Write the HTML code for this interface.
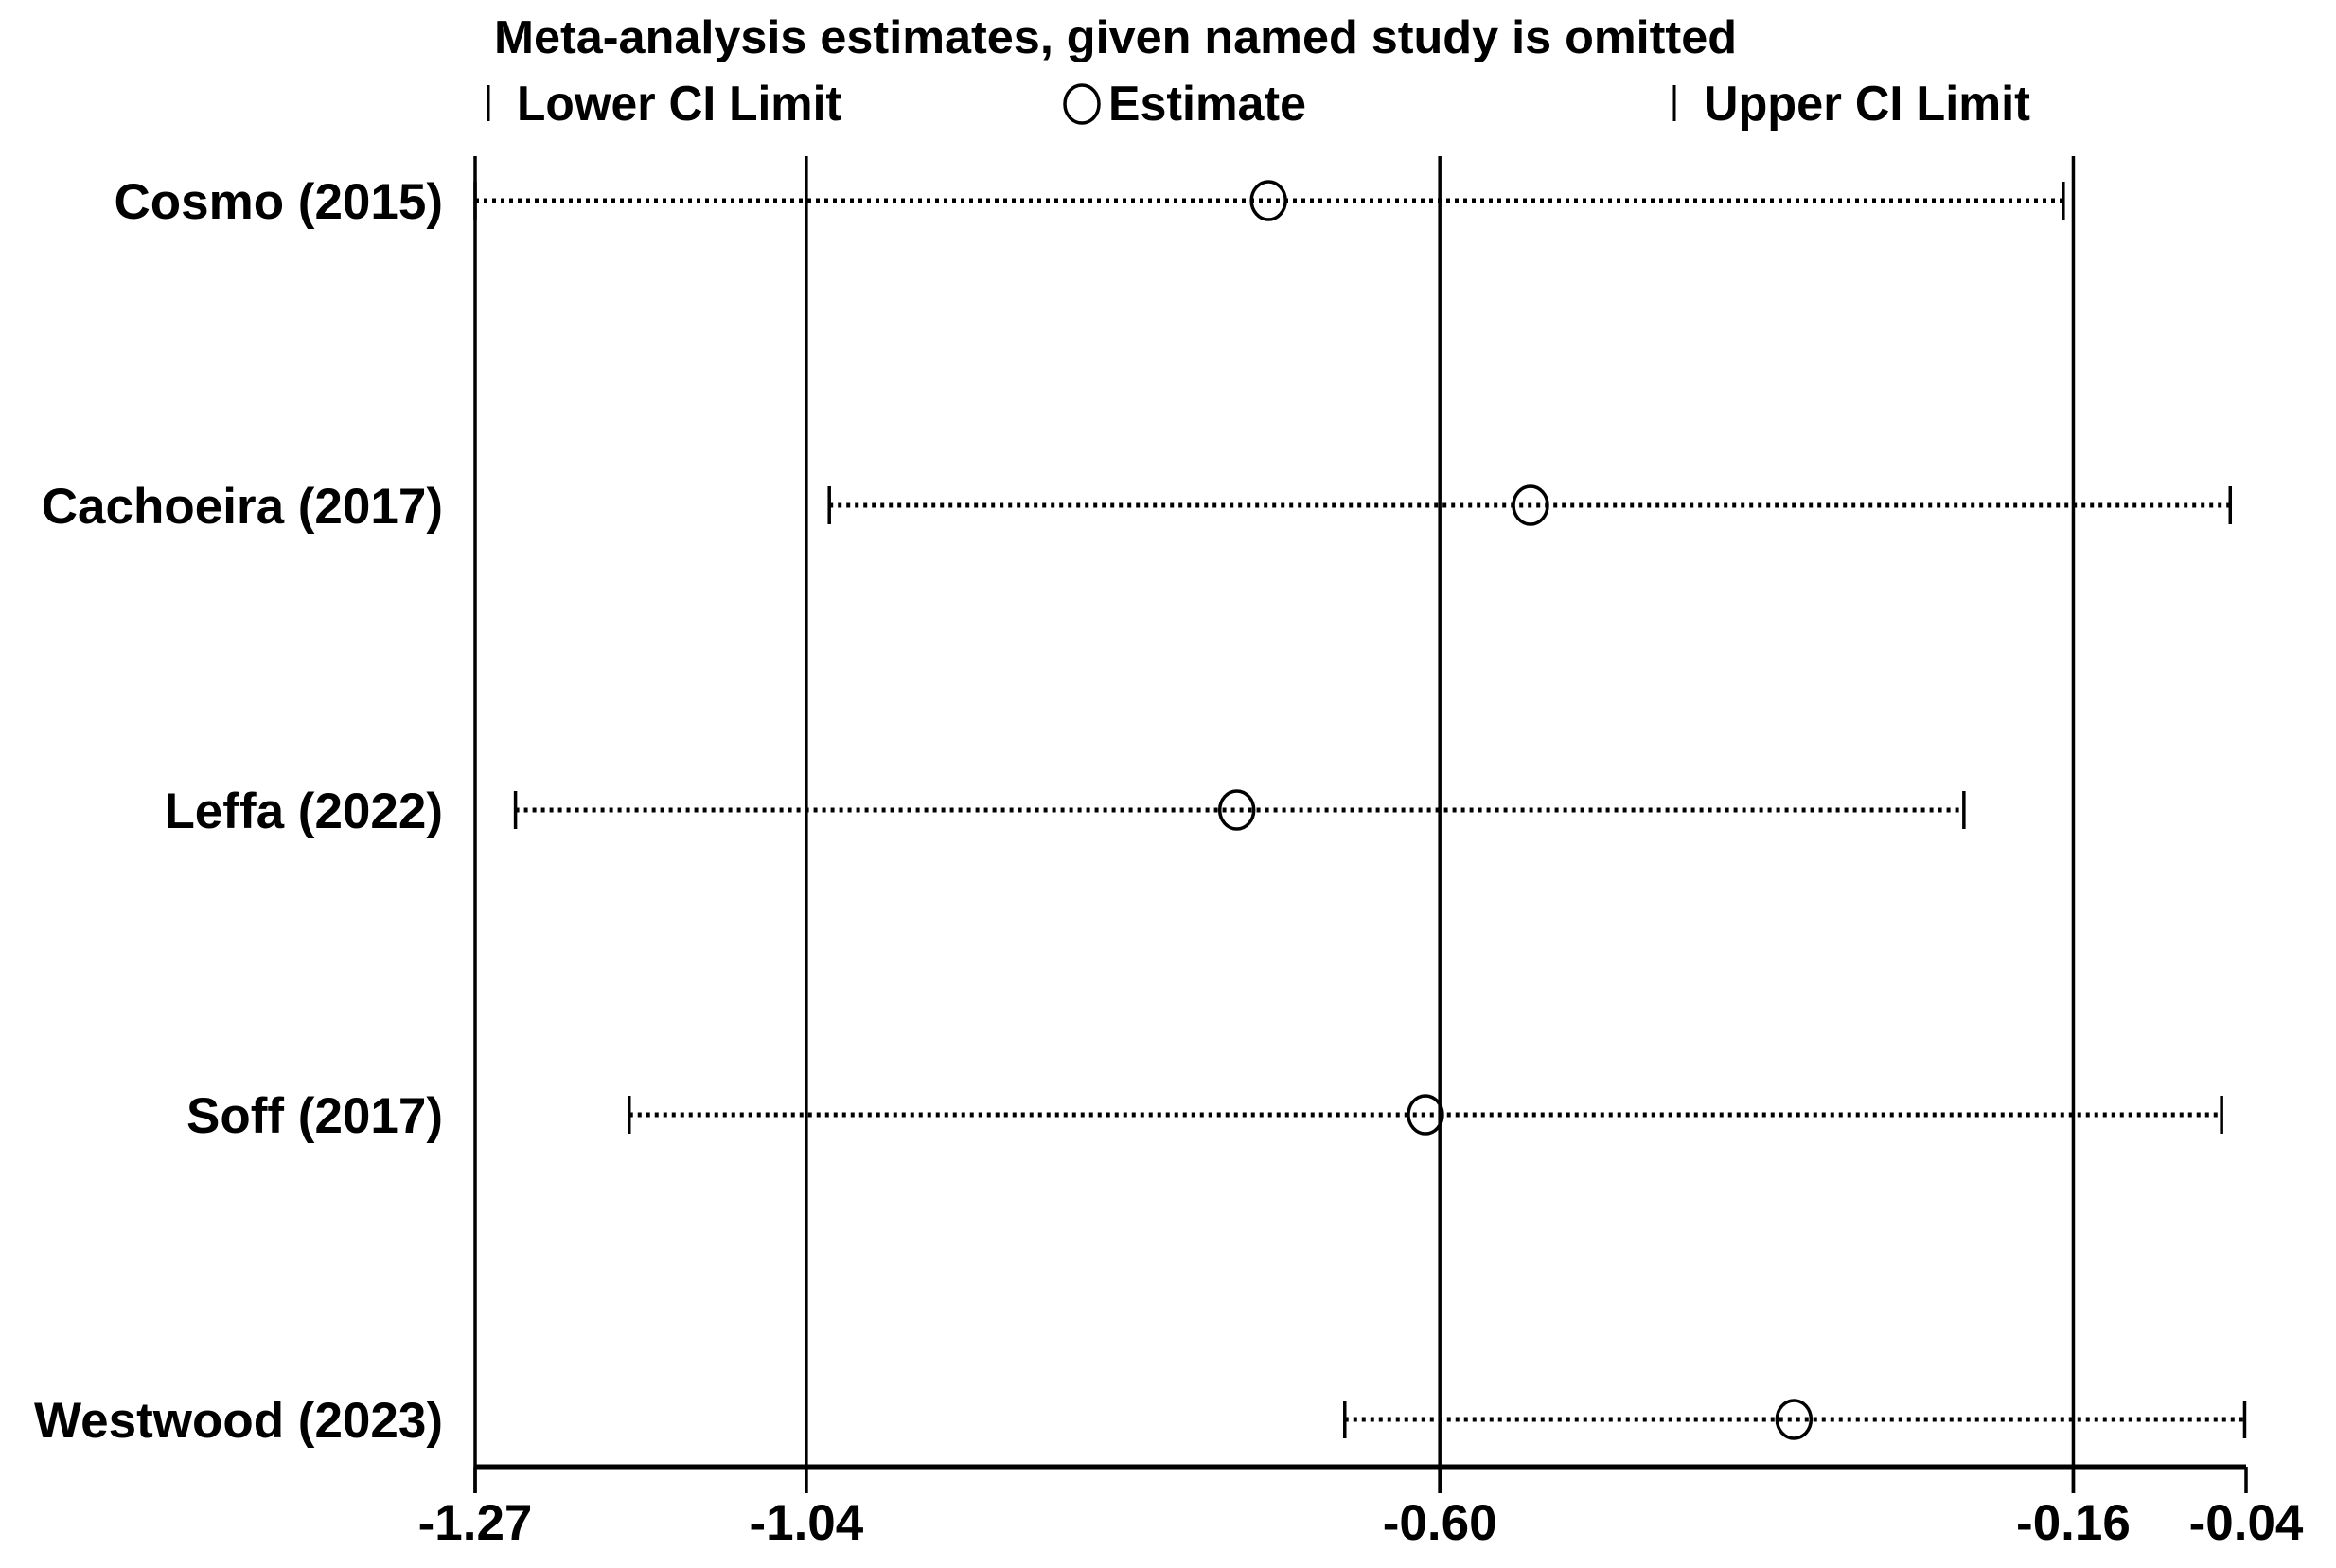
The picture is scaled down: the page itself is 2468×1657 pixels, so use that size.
<!DOCTYPE html>
<html><head><meta charset="utf-8"><style>
html,body{margin:0;padding:0;background:#fff;}
svg{display:block;font-family:"Liberation Sans",Arial,sans-serif;}
</style></head><body>
<svg id="chart" width="2468" height="1657" viewBox="0 0 2468 1657" xmlns="http://www.w3.org/2000/svg">
<text x="522" y="56" font-size="49" font-weight="bold" textLength="1313" lengthAdjust="spacingAndGlyphs">Meta-analysis estimates, given named study is omitted</text>
<g>
<line x1="516" y1="90" x2="516" y2="128" stroke="#000" stroke-width="3"/>
<text x="546" y="127" font-size="52" font-weight="bold" textLength="343" lengthAdjust="spacingAndGlyphs">Lower CI Limit</text>
<ellipse cx="1143" cy="110" rx="18" ry="20" fill="none" stroke="#000" stroke-width="3.5"/>
<text x="1171" y="127" font-size="52" font-weight="bold" textLength="209" lengthAdjust="spacingAndGlyphs">Estimate</text>
<line x1="1769" y1="90" x2="1769" y2="128" stroke="#000" stroke-width="3"/>
<text x="1800" y="127" font-size="52" font-weight="bold" textLength="345" lengthAdjust="spacingAndGlyphs">Upper CI Limit</text>
</g>
<g id="plot"></g>
</svg>
<script>
const studies = ["Cosmo (2015)", "Cachoeira (2017)", "Leffa (2022)", "Soff (2017)", "Westwood (2023)"];
const lowerCI = [-1.27, -1.024, -1.242, -1.163, -0.666];
const estimates = [-0.719, -0.537, -0.741, -0.610, -0.354];
const upperCI = [-0.167, -0.051, -0.236, -0.057, -0.041];
const tickValues = [-1.27, -1.04, -0.60, -0.16, -0.04];
const tickLabels = ["-1.27", "-1.04", "-0.60", "-0.16", "-0.04"];
const refLines = [-1.27, -1.04, -0.60, -0.16];

const NS = "http://www.w3.org/2000/svg";
const g = document.getElementById("plot");
const xMin = -1.27, xMax = -0.04, pxL = 502, pxR = 2373;
function xs(v){ return pxL + (v - xMin) / (xMax - xMin) * (pxR - pxL); }
function ys(i){ return 212 + i * 322; }
function mk(tag, attrs){ const e = document.createElementNS(NS, tag); for (const k in attrs) e.setAttribute(k, attrs[k]); g.appendChild(e); return e; }
const axisY = 1550;

refLines.forEach(v => {
  const l = mk("line", {x1: xs(v), x2: xs(v), y1: 165, y2: 1578, stroke: "#000", "stroke-width": 3.5});
  
  
});
const ax = mk("line", {x1: pxL, x2: pxR, y1: axisY, y2: axisY, stroke: "#000", "stroke-width": 5});


tickValues.forEach((v, i) => {
  const t = mk("line", {x1: xs(v), x2: xs(v), y1: axisY, y2: 1578, stroke: "#000", "stroke-width": 3.5});
  
  
  const tx = mk("text", {x: xs(v), y: 1627, "font-size": 53, "font-weight": "bold", "text-anchor": "middle"});
  tx.textContent = tickLabels[i];
  
  
});
studies.forEach((s, i) => {
  const y = ys(i);
  const lab = mk("text", {x: 468, y: y + 19, "font-size": 53, "font-weight": "bold", "text-anchor": "end"});
  lab.textContent = s;
  
  
  const ln = mk("line", {x1: xs(lowerCI[i]), x2: xs(upperCI[i]), y1: y, y2: y, stroke: "#000", "stroke-width": 5, "stroke-dasharray": "4 5"});
  
  
  const lc = mk("line", {x1: xs(lowerCI[i]), x2: xs(lowerCI[i]), y1: y - 20, y2: y + 20, stroke: "#000", "stroke-width": 3.5});
  
  
  const uc = mk("line", {x1: xs(upperCI[i]), x2: xs(upperCI[i]), y1: y - 20, y2: y + 20, stroke: "#000", "stroke-width": 3.5});
  
  
  const c = mk("ellipse", {cx: xs(estimates[i]), cy: y, rx: 18, ry: 20, fill: "none", stroke: "#000", "stroke-width": 3.5});
  
  
});
</script>
</body></html>
